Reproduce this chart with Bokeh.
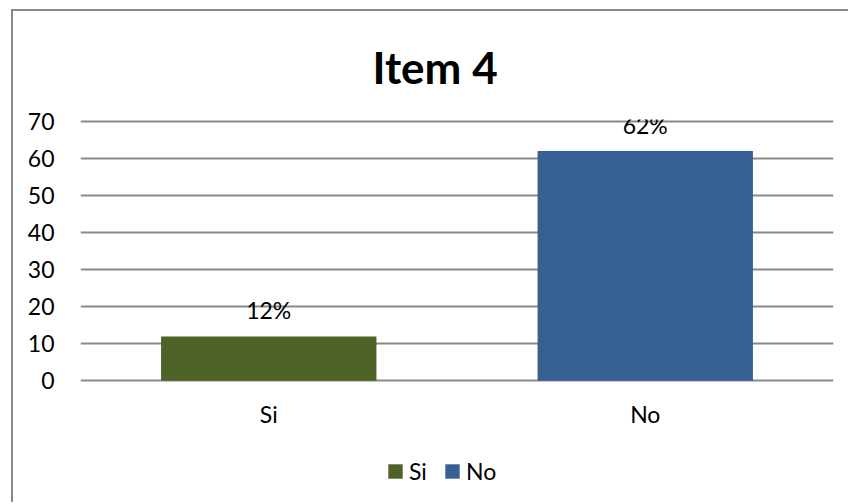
from bokeh.plotting import figure
from bokeh.models import (ColumnDataSource, FactorRange, Range1d,
                          Legend, LegendItem)
from bokeh.core.properties import value
from bokeh.embed import file_html
from bokeh.resources import INLINE

# Chart data
categories = ["Si", "No"]
percentages = [12, 62]
bar_colors = ["#4F6228", "#376092"]
y_ticks = [0, 10, 20, 30, 40, 50, 60, 70]
title_text = "Item 4"

FONT = "Lato"
GRID = "#8a8a8a"

source = ColumnDataSource(data=dict(
    cat=categories,
    val=percentages,
    color=bar_colors,
    label=[f"{v}%" for v in percentages],
))

# The frame reaches down to the legend; the value axis only ticks 0..70
p = figure(
    width=837, height=493,
    x_range=FactorRange(*categories, range_padding=0),
    y_range=Range1d(-32, 70.5),
    output_backend="svg", toolbar_location=None,
    min_border_left=67, min_border_right=17,
    min_border_top=107, min_border_bottom=5,
    margin=(9, 0, 0, 11),
)
# Grey frame line on the chart's left and top edges
p.styles = {"border-left": f"2px solid {GRID}", "border-top": f"2px solid {GRID}"}
p.outline_line_color = None
p.background_fill_color = "white"
p.border_fill_color = "white"

# Title
p.title.text = title_text
p.title.align = "left"
p.title.offset = 292
p.title.standoff = 54
p.title.text_font = FONT
p.title.text_font_style = "bold"
p.title.text_font_size = "44px"
p.title.text_color = "black"

# Gridlines
p.xgrid.grid_line_color = None
p.ygrid.ticker = y_ticks
p.ygrid.grid_line_color = GRID
p.ygrid.grid_line_width = 2

# Bars
bars = p.vbar(x="cat", top="val", width=0.572, fill_color="color",
              line_color=None, source=source)

# Value labels above bars
p.text(x="cat", y="val", text="label", source=source,
       text_align="center", text_baseline="middle", y_offset=-26,
       text_font=value(FONT), text_font_size="23px", text_color="black")

# Value axis
p.yaxis.ticker = y_ticks
p.yaxis.axis_line_color = None
p.yaxis.major_tick_line_color = None
p.yaxis.minor_tick_line_color = None
p.yaxis.major_label_text_font = FONT
p.yaxis.major_label_text_font_size = "23px"
p.yaxis.major_label_text_color = "black"
p.yaxis.major_label_standoff = 20

# Category axis pinned to the zero line
p.xaxis.fixed_location = 0
p.xaxis.axis_line_color = None
p.xaxis.major_tick_line_color = None
p.xaxis.minor_tick_line_color = None
p.xaxis.major_label_text_font = FONT
p.xaxis.major_label_text_font_size = "23px"
p.xaxis.major_label_text_color = "black"
p.xaxis.major_label_standoff = 13

# Legend under the category labels
items = [LegendItem(label=c, renderers=[bars], index=i)
         for i, c in enumerate(categories)]
leg = Legend(items=items, orientation="horizontal",
             location=(306, 14), border_line_color=None,
             background_fill_alpha=0, label_text_font=FONT,
             label_text_font_size="23px", label_text_color="black",
             glyph_width=18, glyph_height=18,
             label_standoff=5, spacing=14, padding=0, margin=0)
p.add_layout(leg)

open("out.html", "w").write(file_html(p, INLINE))
